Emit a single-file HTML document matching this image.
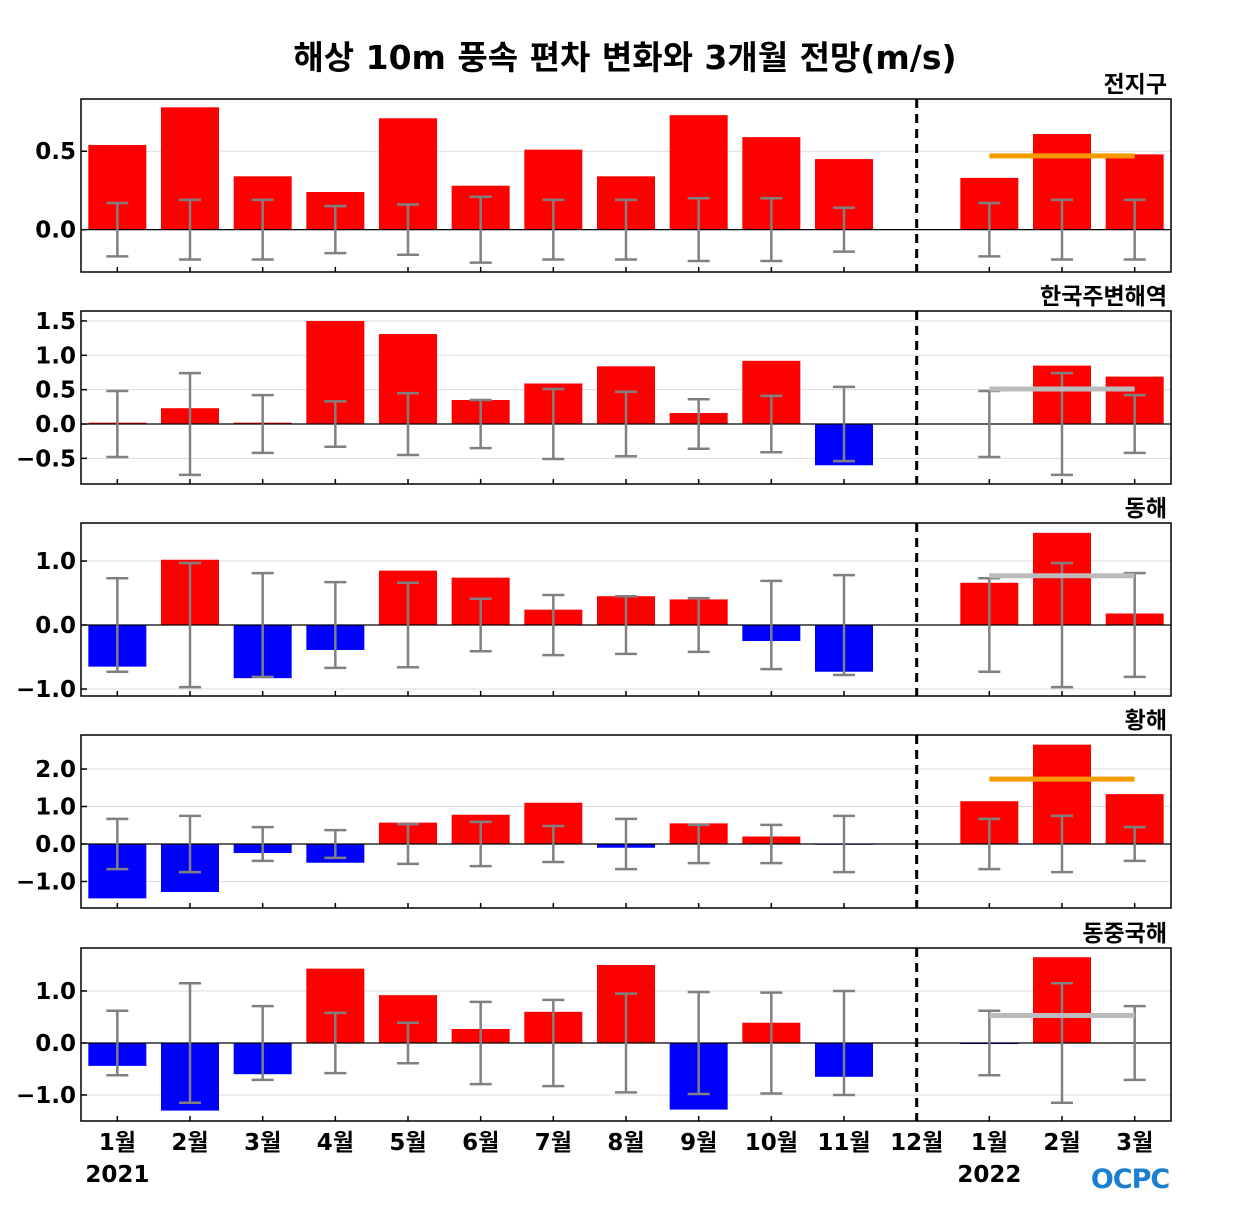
<!DOCTYPE html>
<html><head><meta charset="utf-8">
<style>
body{margin:0;background:#fff;}
svg text{font-family:"DejaVu Sans","Noto Sans CJK KR","NanumGothic",sans-serif;font-weight:bold;fill:#000;}
</style></head>
<body>
<svg id="chart" width="1250" height="1200" xmlns="http://www.w3.org/2000/svg">
<text x="625" y="69" font-size="33" text-anchor="middle">해상 10m 풍속 편차 변화와 3개월 전망(m/s)</text>
<text x="1130" y="1188" font-size="27" text-anchor="middle" style="fill:#1a7fd0;letter-spacing:-1px">OCPC</text>
</svg>
<script>
const months = ["1월","2월","3월","4월","5월","6월","7월","8월","9월","10월","11월","12월","1월","2월","3월"];
const regionNames = ["전지구","한국주변해역","동해","황해","동중국해"];
const valsGlobal = [0.54,0.78,0.34,0.24,0.71,0.28,0.51,0.34,0.73,0.59,0.45,0,0.33,0.61,0.48];
const errGlobal = [0.17,0.19,0.19,0.15,0.16,0.21,0.19,0.19,0.2,0.2,0.14,null,0.17,0.19,0.19];
const valsKorea = [0.02,0.23,0.02,1.5,1.31,0.35,0.59,0.84,0.16,0.92,-0.6,0,0,0.85,0.69];
const errKorea = [0.48,0.74,0.42,0.33,0.45,0.35,0.51,0.47,0.36,0.41,0.54,null,0.48,0.74,0.42];
const valsEast = [-0.65,1.02,-0.83,-0.39,0.85,0.74,0.24,0.45,0.4,-0.25,-0.73,0,0.66,1.44,0.18];
const errEast = [0.73,0.97,0.81,0.67,0.66,0.41,0.47,0.45,0.42,0.69,0.78,null,0.73,0.97,0.81];
const valsYellow = [-1.45,-1.28,-0.24,-0.5,0.57,0.78,1.1,-0.1,0.55,0.2,-0.02,0,1.14,2.65,1.33];
const errYellow = [0.67,0.75,0.45,0.37,0.53,0.59,0.48,0.67,0.51,0.51,0.75,null,0.67,0.75,0.45];
const valsECS = [-0.44,-1.3,-0.6,1.43,0.92,0.27,0.6,1.5,-1.28,0.39,-0.65,0,-0.02,1.65,-0.01];
const errECS = [0.62,1.15,0.71,0.58,0.39,0.79,0.83,0.95,0.98,0.97,1.0,null,0.62,1.15,0.71];
const forecastLine = [0.47,0.51,0.77,1.73,0.53];
const forecastColor = ["#f59a00","#bbbbbb","#bbbbbb","#f59a00","#bbbbbb"];
const yTicks = [[0,0.5],[-0.5,0,0.5,1.0,1.5],[-1,0,1],[-1,0,1,2],[-1,0,1]];
const yDomains = [[-0.27,0.833],[-0.873,1.645],[-1.109,1.594],[-1.707,2.907],[-1.5,1.827]];
const panelTops = [99,311,523,735,948];
const allVals=[valsGlobal,valsKorea,valsEast,valsYellow,valsECS];
const allErr=[errGlobal,errKorea,errEast,errYellow,errECS];

const NS="http://www.w3.org/2000/svg";
const svg=document.getElementById('chart');
function mk(tag,attrs,parent){const e=document.createElementNS(NS,tag);for(const k in attrs)e.setAttribute(k,attrs[k]);(parent||svg).appendChild(e);return e;}
const X0=81,X1=1171,H=173,cw=(X1-X0)/months.length;
const xC=i=>X0+cw*(i+0.5);

for(let p=0;p<5;p++){
  const top=panelTops[p],bot=top+H,[d0,d1]=yDomains[p];
  const y=v=>bot-(v-d0)/(d1-d0)*H;
  const g=mk('g',{});
  
  
  yTicks[p].forEach(t=>{
    const l=mk('line',{x1:X0,x2:X1,y1:y(t),y2:y(t),stroke:'#dddddd','stroke-width':1},g);
    
    
    mk('line',{x1:X0,x2:X0+6,y1:y(t),y2:y(t),stroke:'#000','stroke-width':1.5},g);
    const tx=mk('text',{x:X0-5,y:y(t)+8,'font-size':23,'text-anchor':'end'},g);
    tx.textContent=(t<0?'−':'')+Math.abs(t).toFixed(1);
    
    
  });
  allVals[p].forEach((v,i)=>{
    const r=mk('rect',{x:xC(i)-29,width:58,y:Math.min(y(v),y(0)),height:Math.abs(y(v)-y(0)),fill:v>=0?'#ff0000':'#0000ff'},g);
    
    
  });
  mk('line',{x1:X0,x2:X1,y1:y(0),y2:y(0),stroke:'#000','stroke-width':1.2},g);
  allErr[p].forEach((e,i)=>{
    if(e==null)return;
    const eg=mk('g',{stroke:'#808080','stroke-width':2.5},g);
    
    
    mk('line',{x1:xC(i),x2:xC(i),y1:y(e),y2:y(-e)},eg);
    mk('line',{x1:xC(i)-11,x2:xC(i)+11,y1:y(e),y2:y(e)},eg);
    mk('line',{x1:xC(i)-11,x2:xC(i)+11,y1:y(-e),y2:y(-e)},eg);
  });
  const fl=mk('line',{x1:xC(12),x2:xC(14),y1:y(forecastLine[p]),y2:y(forecastLine[p]),stroke:forecastColor[p],'stroke-width':5},g);
  
  
  for(let i=0;i<months.length;i++) mk('line',{x1:xC(i),x2:xC(i),y1:bot,y2:bot-5,stroke:'#000','stroke-width':1.5},g);
  const dl=mk('line',{x1:xC(11),x2:xC(11),y1:top,y2:bot,stroke:'#000','stroke-width':3,'stroke-dasharray':'9,6'},g);
  
  
  mk('rect',{x:X0,y:top,width:X1-X0,height:H,fill:'none',stroke:'#000','stroke-width':1.5},g);
  const tt=mk('text',{x:X1-4,y:top-7,'font-size':23,'text-anchor':'end'},g);
  tt.textContent=regionNames[p];
  
  
}
months.forEach((m,i)=>{
  const t=mk('text',{x:xC(i),y:1150,'font-size':23,'text-anchor':'middle'});
  t.textContent=m;
  
  
});
[["2021",0],["2022",12]].forEach(([s,i])=>{
  const t=mk('text',{x:xC(i),y:1182,'font-size':23,'text-anchor':'middle'});
  t.textContent=s;
  
  
});
</script>
</body></html>
